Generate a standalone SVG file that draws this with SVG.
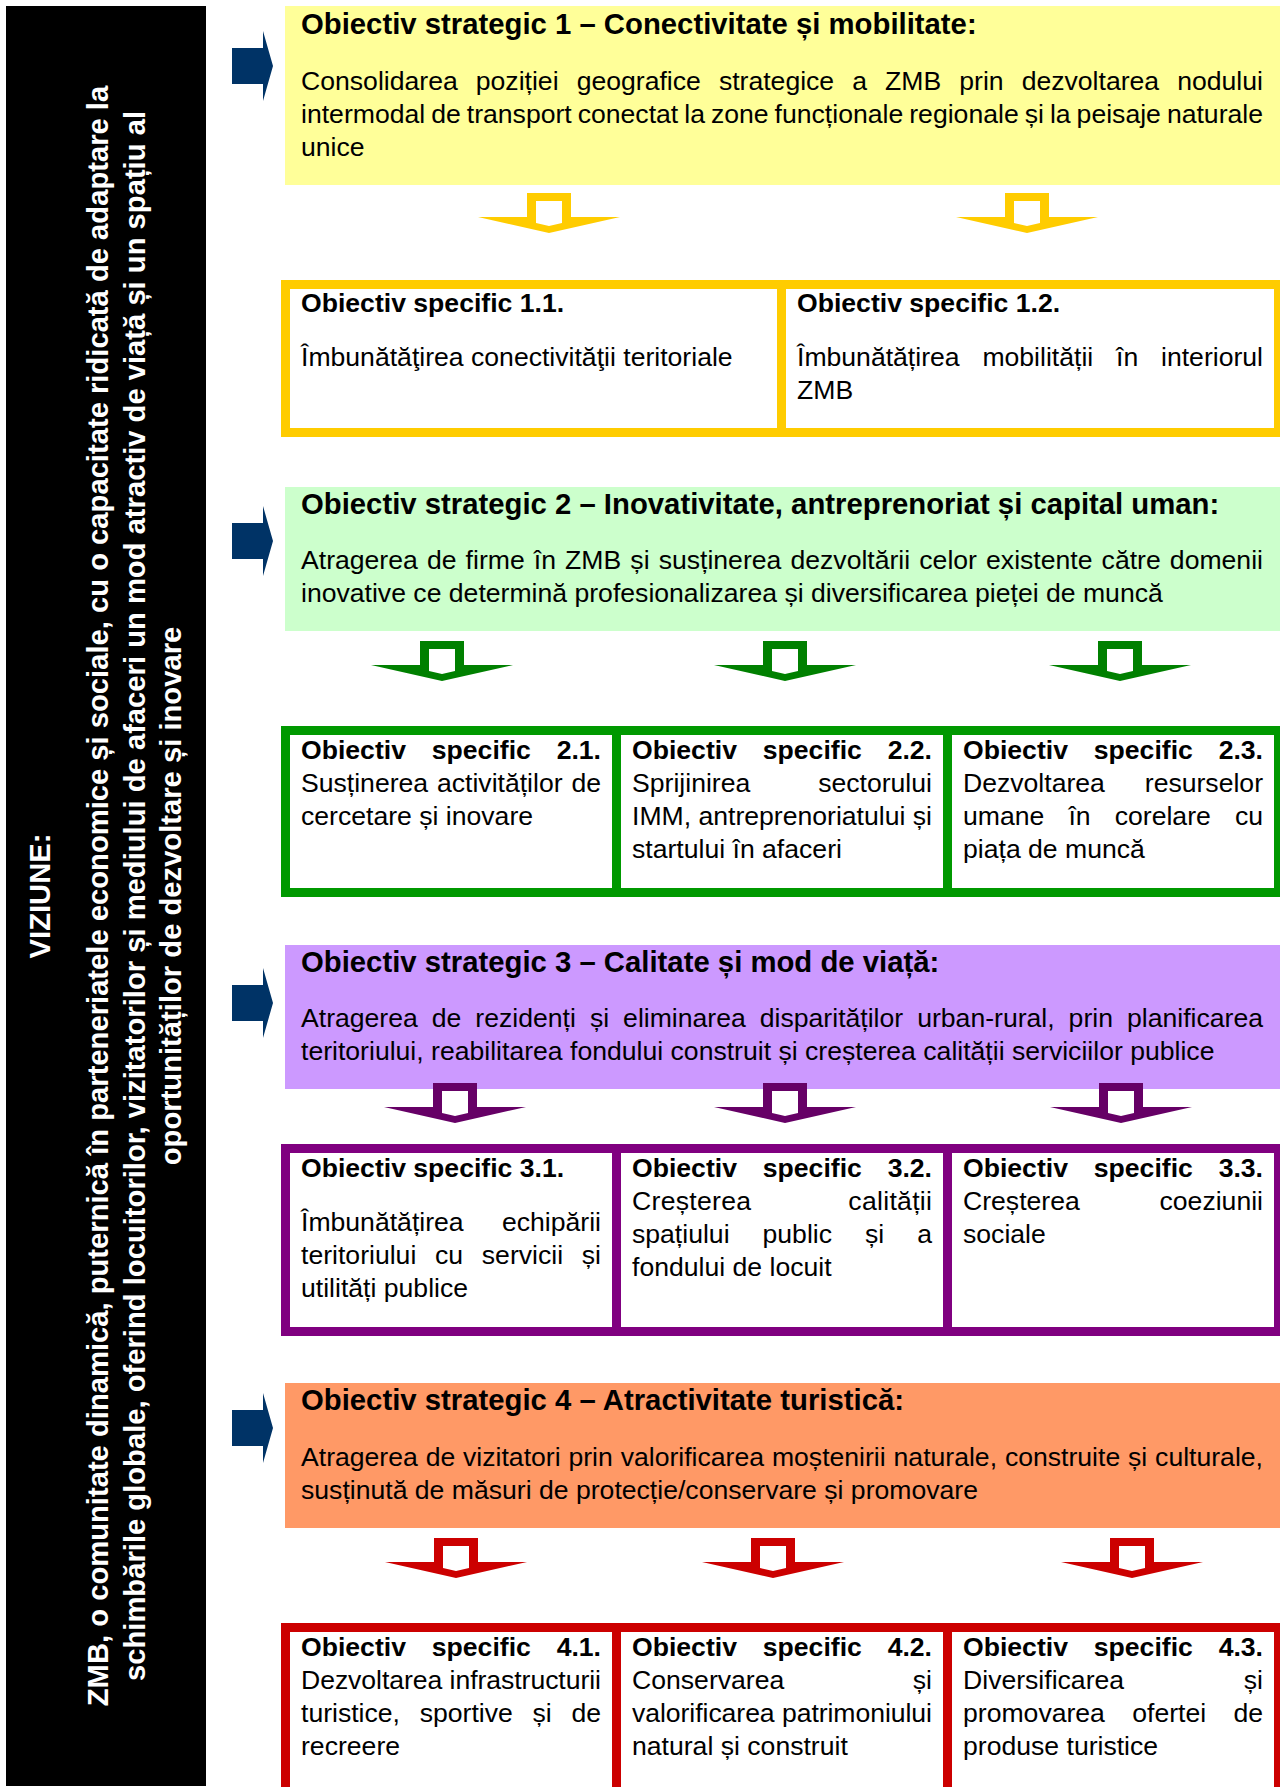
<svg xmlns="http://www.w3.org/2000/svg" xmlns:xlink="http://www.w3.org/1999/xlink" width="1280" height="1787" viewBox="0 0 1280 1787">
<style>
.t{font-family:"Liberation Sans",Arial,sans-serif;font-size:26.6px;fill:#000}
.b{font-weight:bold}
.h{font-family:"Liberation Sans",Arial,sans-serif;font-size:29.3px;font-weight:bold;fill:#000}
.v{font-family:"Liberation Sans",Arial,sans-serif;font-size:29.2px;font-weight:bold;fill:#fff;text-anchor:middle}
</style>
<defs>
<path id="dn" fill-rule="evenodd" d="M-22,0 H22 V24 H71 L0,40 L-71,24 H-22 Z M-13,8 V30 L0,33 L13,30 V8 Z"/>
<path id="rt" d="M0,-18 H31 V-35 L41,0 L31,35 V18 H0 Z" fill="#003366"/>
</defs>
<rect width="1280" height="1787" fill="#fff"/>

<g id="vision">
<rect x="6" y="6" width="200" height="1780" fill="#000"/>
<text class="v" transform="translate(50,896) rotate(-90)">VIZIUNE:</text>
<text class="v" transform="translate(108,896) rotate(-90)">ZMB, o comunitate dinamică, puternică în parteneriatele economice și sociale, cu o capacitate ridicată de adaptare la</text>
<text class="v" transform="translate(144.5,896) rotate(-90)">schimbările globale, oferind locuitorilor, vizitatorilor și mediului de afaceri un mod atractiv de viață și un spațiu al</text>
<text class="v" transform="translate(181,896) rotate(-90)">oportunităților de dezvoltare și inovare</text>
</g>

<g id="os1">
<rect x="285" y="6" width="995" height="179" fill="#FFFF99"/>
<text class="h" x="301" y="34">Obiectiv strategic 1 – Conectivitate și mobilitate:</text>
<text class="t" x="301" y="90" style="word-spacing:10.66px" textLength="962" lengthAdjust="spacing">Consolidarea poziției geografice strategice a ZMB prin dezvoltarea nodului</text>
<text class="t" x="301" y="123" style="word-spacing:-1.39px" textLength="962" lengthAdjust="spacing">intermodal de transport conectat la zone funcționale regionale și la peisaje naturale</text>
<text class="t" x="301" y="156">unice</text>
</g>

<g id="os1-frame"><rect x="281" y="280" width="1002" height="157" fill="#FFCC00"/></g>
<g id="os1-1">
<rect x="290" y="289" width="487" height="139" fill="#fff"/>
<text class="t b" x="301" y="312">Obiectiv specific 1.1.</text>
<text class="t" x="301" y="366">Îmbunătăţirea conectivităţii teritoriale</text>
</g>
<g id="os1-2">
<rect x="786" y="289" width="488" height="139" fill="#fff"/>
<text class="t b" x="797" y="312">Obiectiv specific 1.2.</text>
<text class="t" x="797" y="366" style="word-spacing:15.4px" textLength="466" lengthAdjust="spacing">Îmbunătățirea mobilității în interiorul</text>
<text class="t" x="797" y="399">ZMB</text>
</g>

<g id="os2">
<rect x="285" y="487" width="995" height="144" fill="#CCFFCC"/>
<text class="h" x="301" y="514">Obiectiv strategic 2 – Inovativitate, antreprenoriat și capital uman:</text>
<text class="t" x="301" y="569" style="word-spacing:1.71px" textLength="962" lengthAdjust="spacing">Atragerea de firme în ZMB și susținerea dezvoltării celor existente către domenii</text>
<text class="t" x="301" y="602">inovative ce determină profesionalizarea și diversificarea pieței de muncă</text>
</g>

<g id="os2-frame"><rect x="281" y="726" width="1002" height="171" fill="#009900"/></g>
<g id="os2-1">
<rect x="290" y="735" width="322" height="153" fill="#fff"/>
<text class="t b" x="301" y="759" style="word-spacing:18.4px" textLength="300" lengthAdjust="spacing">Obiectiv specific 2.1.</text>
<text class="t" x="301" y="792" style="word-spacing:1.45px" textLength="300" lengthAdjust="spacing">Susținerea activităților de</text>
<text class="t" x="301" y="825">cercetare și inovare</text>
</g>
<g id="os2-2">
<rect x="621" y="735" width="322" height="153" fill="#fff"/>
<text class="t b" x="632" y="759" style="word-spacing:18.4px" textLength="300" lengthAdjust="spacing">Obiectiv specific 2.2.</text>
<text class="t" x="632" y="792" style="word-spacing:60.5px" textLength="300" lengthAdjust="spacing">Sprijinirea sectorului</text>
<text class="t" x="632" y="825" textLength="300" lengthAdjust="spacing">IMM, antreprenoriatului și</text>
<text class="t" x="632" y="858">startului în afaceri</text>
</g>
<g id="os2-3">
<rect x="952" y="735" width="322" height="153" fill="#fff"/>
<text class="t b" x="963" y="759" style="word-spacing:18.4px" textLength="300" lengthAdjust="spacing">Obiectiv specific 2.3.</text>
<text class="t" x="963" y="792" style="word-spacing:32.5px" textLength="300" lengthAdjust="spacing">Dezvoltarea resurselor</text>
<text class="t" x="963" y="825" style="word-spacing:16.7px" textLength="300" lengthAdjust="spacing">umane în corelare cu</text>
<text class="t" x="963" y="858">piața de muncă</text>
</g>

<g id="os3">
<rect x="285" y="945" width="995" height="144" fill="#CC99FF"/>
<text class="h" x="301" y="972">Obiectiv strategic 3 – Calitate și mod de viață:</text>
<text class="t" x="301" y="1027" style="word-spacing:6.61px" textLength="962" lengthAdjust="spacing">Atragerea de rezidenți și eliminarea disparităților urban-rural, prin planificarea</text>
<text class="t" x="301" y="1060">teritoriului, reabilitarea fondului construit și creșterea calității serviciilor publice</text>
</g>

<g id="os3-frame"><rect x="281" y="1144" width="1002" height="192" fill="#800080"/></g>
<g id="os3-1">
<rect x="290" y="1153" width="322" height="174" fill="#fff"/>
<text class="t b" x="301" y="1177">Obiectiv specific 3.1.</text>
<text class="t" x="301" y="1231" style="word-spacing:30.9px" textLength="300" lengthAdjust="spacing">Îmbunătățirea echipării</text>
<text class="t" x="301" y="1264" style="word-spacing:11.3px" textLength="300" lengthAdjust="spacing">teritoriului cu servicii și</text>
<text class="t" x="301" y="1297">utilități publice</text>
</g>
<g id="os3-2">
<rect x="621" y="1153" width="322" height="174" fill="#fff"/>
<text class="t b" x="632" y="1177" style="word-spacing:18.4px" textLength="300" lengthAdjust="spacing">Obiectiv specific 3.2.</text>
<text class="t" x="632" y="1210" style="word-spacing:89.2px" textLength="300" lengthAdjust="spacing">Creșterea calității</text>
<text class="t" x="632" y="1243" style="word-spacing:25.6px" textLength="300" lengthAdjust="spacing">spațiului public și a</text>
<text class="t" x="632" y="1276">fondului de locuit</text>
</g>
<g id="os3-3">
<rect x="952" y="1153" width="322" height="174" fill="#fff"/>
<text class="t b" x="963" y="1177" style="word-spacing:18.4px" textLength="300" lengthAdjust="spacing">Obiectiv specific 3.3.</text>
<text class="t" x="963" y="1210" style="word-spacing:72.4px" textLength="300" lengthAdjust="spacing">Creșterea coeziunii</text>
<text class="t" x="963" y="1243">sociale</text>
</g>

<g id="os4">
<rect x="285" y="1383" width="995" height="145" fill="#FF9966"/>
<text class="h" x="301" y="1410">Obiectiv strategic 4 – Atractivitate turistică:</text>
<text class="t" x="301" y="1466" style="word-spacing:0.46px" textLength="962" lengthAdjust="spacing">Atragerea de vizitatori prin valorificarea moștenirii naturale, construite și culturale,</text>
<text class="t" x="301" y="1499">susținută de măsuri de protecție/conservare și promovare</text>
</g>

<g id="os4-frame"><rect x="281" y="1623" width="1002" height="180" fill="#CC0000"/></g>
<g id="os4-1">
<rect x="290" y="1632" width="322" height="160" fill="#fff"/>
<text class="t b" x="301" y="1656" style="word-spacing:18.4px" textLength="300" lengthAdjust="spacing">Obiectiv specific 4.1.</text>
<text class="t" x="301" y="1689" textLength="300" lengthAdjust="spacing">Dezvoltarea infrastructurii</text>
<text class="t" x="301" y="1722" style="word-spacing:12.3px" textLength="300" lengthAdjust="spacing">turistice, sportive și de</text>
<text class="t" x="301" y="1755">recreere</text>
</g>
<g id="os4-2">
<rect x="621" y="1632" width="322" height="160" fill="#fff"/>
<text class="t b" x="632" y="1656" style="word-spacing:18.4px" textLength="300" lengthAdjust="spacing">Obiectiv specific 4.2.</text>
<text class="t" x="632" y="1689" style="word-spacing:121.1px" textLength="300" lengthAdjust="spacing">Conservarea și</text>
<text class="t" x="632" y="1722" textLength="300" lengthAdjust="spacing">valorificarea patrimoniului</text>
<text class="t" x="632" y="1755">natural și construit</text>
</g>
<g id="os4-3">
<rect x="952" y="1632" width="322" height="160" fill="#fff"/>
<text class="t b" x="963" y="1656" style="word-spacing:18.4px" textLength="300" lengthAdjust="spacing">Obiectiv specific 4.3.</text>
<text class="t" x="963" y="1689" style="word-spacing:112.3px" textLength="300" lengthAdjust="spacing">Diversificarea și</text>
<text class="t" x="963" y="1722" style="word-spacing:19.9px" textLength="300" lengthAdjust="spacing">promovarea ofertei de</text>
<text class="t" x="963" y="1755">produse turistice</text>
</g>

<g id="connectors">
<use xlink:href="#rt" x="232" y="66"/>
<use xlink:href="#rt" x="232" y="541"/>
<use xlink:href="#rt" x="232" y="1003"/>
<use xlink:href="#rt" x="232" y="1428"/>
<use xlink:href="#dn" x="549" y="193" fill="#FFCC00"/>
<use xlink:href="#dn" x="1027" y="193" fill="#FFCC00"/>
<use xlink:href="#dn" x="442" y="641" fill="#008000"/>
<use xlink:href="#dn" x="785" y="641" fill="#008000"/>
<use xlink:href="#dn" x="1120" y="641" fill="#008000"/>
<use xlink:href="#dn" x="455" y="1083" fill="#660066"/>
<use xlink:href="#dn" x="785" y="1083" fill="#660066"/>
<use xlink:href="#dn" x="1121" y="1083" fill="#660066"/>
<use xlink:href="#dn" x="456" y="1538" fill="#CC0000"/>
<use xlink:href="#dn" x="773" y="1538" fill="#CC0000"/>
<use xlink:href="#dn" x="1132" y="1538" fill="#CC0000"/>
</g>
</svg>
